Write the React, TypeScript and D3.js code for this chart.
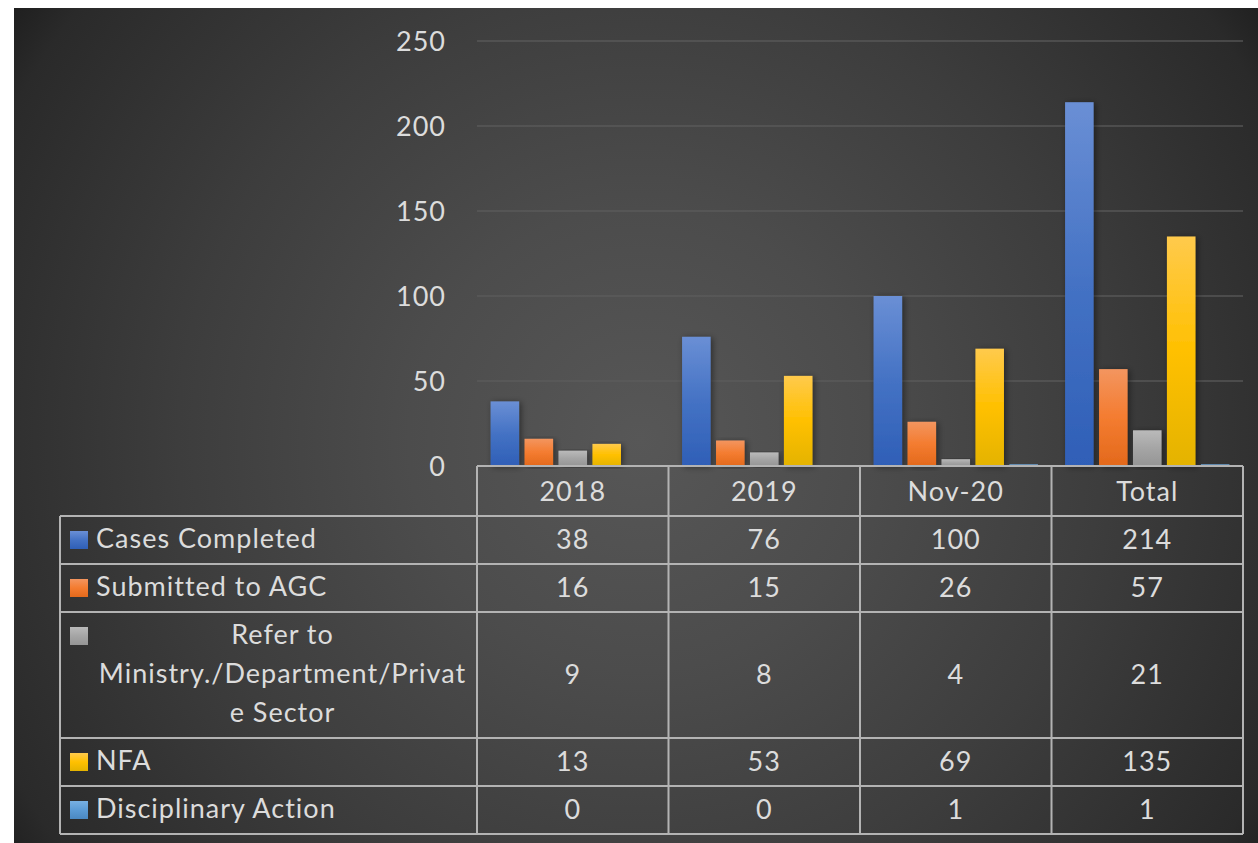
import React from 'react'
import * as d3 from 'd3'

// chart values
const categories = ['2018', '2019', 'Nov-20', 'Total']
const casesCompleted = [38, 76, 100, 214]
const submittedToAGC = [16, 15, 26, 57]
const referToMinistry = [9, 8, 4, 21]
const nfa = [13, 53, 69, 135]
const disciplinaryAction = [0, 0, 1, 1]
const yTicks = [0, 50, 100, 150, 200, 250]

const seriesNames = [
  'Cases Completed',
  'Submitted to AGC',
  'Refer to Ministry./Department/Private Sector',
  'NFA',
  'Disciplinary Action',
]
// how the long label wraps in the table cell
const seriesLabelLines = [
  ['Cases Completed'],
  ['Submitted to AGC'],
  ['Refer to', 'Ministry./Department/Privat', 'e Sector'],
  ['NFA'],
  ['Disciplinary Action'],
]
const seriesValues = [casesCompleted, submittedToAGC, referToMinistry, nfa, disciplinaryAction]

// [top, middle, bottom] of each bar's gradient
const seriesColors = [
  ['#6a8fd5', '#4472c4', '#2f5fb7'],
  ['#f3955f', '#f47c30', '#e3691c'],
  ['#bababa', '#a5a5a5', '#959595'],
  ['#ffca4c', '#ffc000', '#e4b300'],
  ['#78b0e2', '#5b9bd5', '#4a88c2'],
]

const W = 1258
const H = 843
const textColor = '#dcdcdc'
const lineColor = '#b3b3b3'
const font = 'Lato, "Open Sans", sans-serif'
const fontSize = 27

export default function App() {
  const plotLeft = 477
  const plotRight = 1243
  const y = d3.scaleLinear().domain([0, 250]).range([466, 41])
  const x = d3.scaleBand().domain(categories).range([plotLeft, plotRight])
  const xs = d3
    .scaleBand()
    .domain(seriesNames)
    .range([0, x.bandwidth()])
    .paddingInner(0.16)
    .paddingOuter(0.4)

  // table rows
  const headerTop = y(0)
  const headerH = 50
  const lineH = 39
  const baseRowH = 48
  let acc = headerTop + headerH
  const rows = seriesLabelLines.map((lines) => {
    const h = baseRowH + (lines.length - 1) * lineH
    const r = { top: acc, h }
    acc += h
    return r
  })
  const tableBottom = acc
  const tableLeft = 60
  const labelX = 96
  const labelCenter = (labelX + plotLeft - 8) / 2

  return (
    <svg
      width={W}
      height={H}
      style={{ position: 'absolute', left: 0, top: 0, display: 'block' }}
      fontFamily={font}
    >
      <defs>
        <radialGradient id="bg" gradientUnits="userSpaceOnUse" cx={640} cy={440} r={770}>
          <stop offset="0" stopColor="#575757" />
          <stop offset="0.3" stopColor="#4c4c4c" />
          <stop offset="0.6" stopColor="#3d3d3d" />
          <stop offset="0.92" stopColor="#2a2a2a" />
          <stop offset="1" stopColor="#1d1d1d" />
        </radialGradient>
        {seriesColors.map((c, i) => (
          <linearGradient key={i} id={'bar' + i} x1="0" y1="0" x2="0" y2="1">
            <stop offset="0" stopColor={c[0]} />
            <stop offset="0.5" stopColor={c[1]} />
            <stop offset="1" stopColor={c[2]} />
          </linearGradient>
        ))}
        <filter id="shadow" x="-30%" y="-10%" width="160%" height="120%">
          <feDropShadow dx="2" dy="1" stdDeviation="3" floodColor="#000" floodOpacity="0.45" />
        </filter>
      </defs>

      <rect x={14} y={8} width={W - 14} height={H - 8} fill="url(#bg)" />

      {/* gridlines */}
      {yTicks.slice(1).map((t) => (
        <line
          key={t}
          x1={plotLeft}
          x2={plotRight}
          y1={y(t)}
          y2={y(t)}
          stroke="#5e5e5e"
          strokeOpacity={0.8}
          strokeWidth={1.5}
        />
      ))}

      <g fill={textColor} fontSize={fontSize} letterSpacing={1}>
        {/* y tick labels */}
        {yTicks.map((t) => (
          <text key={t} x={446} y={y(t) - 1} textAnchor="end" dominantBaseline="central">
            {t}
          </text>
        ))}
      </g>

      {/* bars */}
      {categories.map((c, ci) => (
        <g key={c} transform={`translate(${x(c)},0)`}>
          {seriesNames.map((s, si) => {
            const v = seriesValues[si][ci]
            const top = y(v)
            return (
              <rect
                key={s}
                x={xs(s)}
                y={top}
                width={xs.bandwidth()}
                height={y(0) - top}
                fill={`url(#bar${si})`}
                filter={v > 2 ? 'url(#shadow)' : undefined}
              />
            )
          })}
        </g>
      ))}

      {/* data table */}
      <g stroke={lineColor} strokeWidth={2} fill="none">
        <line x1={plotLeft} x2={plotRight} y1={headerTop} y2={headerTop} />
        <line x1={tableLeft} x2={plotRight} y1={headerTop + headerH} y2={headerTop + headerH} />
        {rows.map((r, i) => (
          <line key={i} x1={tableLeft} x2={plotRight} y1={r.top + r.h} y2={r.top + r.h} />
        ))}
        <line x1={tableLeft} x2={tableLeft} y1={headerTop + headerH} y2={tableBottom} />
        {categories.map((c) => (
          <line key={c} x1={x(c)} x2={x(c)} y1={headerTop} y2={tableBottom} />
        ))}
        <line x1={plotRight} x2={plotRight} y1={headerTop} y2={tableBottom} />
      </g>

      <g fill={textColor} fontSize={fontSize} letterSpacing={1}>
        {categories.map((c) => (
          <text
            key={c}
            x={x(c)! + x.bandwidth() / 2}
            y={headerTop + headerH / 2 - 1}
            textAnchor="middle"
            dominantBaseline="central"
          >
            {c}
          </text>
        ))}

        {rows.map((r, si) => {
          const lines = seriesLabelLines[si]
          const firstMid = r.top + baseRowH / 2
          return (
            <g key={si}>
              <rect x={70} y={firstMid - 9} width={18} height={18} fill={`url(#bar${si})`} />
              {lines.map((l, li) => (
                <text
                  key={li}
                  x={lines.length > 1 ? labelCenter : labelX}
                  y={firstMid - 3 + li * lineH}
                  textAnchor={lines.length > 1 ? 'middle' : 'start'}
                  dominantBaseline="central"
                >
                  {l}
                </text>
              ))}
              {categories.map((c, ci) => (
                <text
                  key={c}
                  x={x(c)! + x.bandwidth() / 2}
                  y={r.top + r.h / 2 - 2}
                  textAnchor="middle"
                  dominantBaseline="central"
                >
                  {seriesValues[si][ci]}
                </text>
              ))}
            </g>
          )
        })}
      </g>
    </svg>
  )
}
